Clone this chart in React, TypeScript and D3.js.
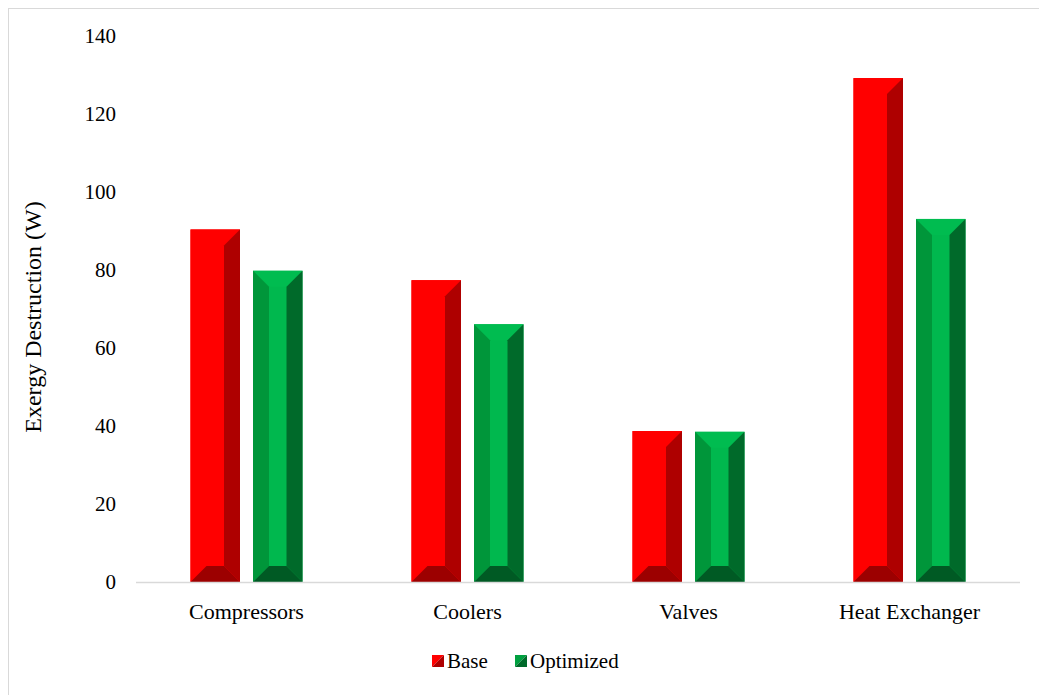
import React from "react";
import * as d3 from "d3";

const categories = ["Compressors", "Coolers", "Valves", "Heat Exchanger"];
const baseValues = [90.4, 77.4, 38.7, 129.2];
const optimizedValues = [79.8, 66.1, 38.5, 93.1];
const yTicks = [0, 20, 40, 60, 80, 100, 120, 140];
const seriesNames = ["Base", "Optimized"];

const W = 1039;
const H = 695;
const plot = { left: 136, right: 1020, top: 36, bottom: 582 };
const font = "'Times New Roman', Times, 'Liberation Serif', Tinos, 'Noto Serif', 'DejaVu Serif', FreeSerif, serif";

const redPal = { main: "#FF0000", top: "#FF0000", left: "#FF0000", right: "#AE0000", bottom: "#9C0000" };
const greenPal = { main: "#00B84E", top: "#00BC50", left: "#00963A", right: "#006A2A", bottom: "#005A24" };

function BevelBar({ x, y, w, h, pal }: any) {
  const b = Math.min(16, w / 3, h / 2);
  const x0 = x, x1 = x + w, y0 = y, y1 = y + h;
  const poly = (pts: number[][]) => pts.map((p) => p.join(",")).join(" ");
  return (
    <g>
      <rect x={x0} y={y0} width={w} height={h} fill={pal.main} />
      <polygon points={poly([[x0, y0], [x1, y0], [x1 - b, y0 + b], [x0 + b, y0 + b]])} fill={pal.top} />
      <polygon points={poly([[x0, y0], [x0 + b, y0 + b], [x0 + b, y1 - b], [x0, y1]])} fill={pal.left} />
      <polygon points={poly([[x1, y0], [x1, y1], [x1 - b, y1 - b], [x1 - b, y0 + b]])} fill={pal.right} />
      <polygon points={poly([[x0, y1], [x1, y1], [x1 - b, y1 - b], [x0 + b, y1 - b]])} fill={pal.bottom} />
    </g>
  );
}

const txt = { fontFamily: font, fill: "#000" };

export default function App() {
  const x = d3.scaleBand<string>().domain(categories).range([plot.left, plot.right]);
  const y = d3.scaleLinear().domain([0, 140]).range([plot.bottom, plot.top]);
  const barW = 49.5;
  const gap = 13;
  const series = [
    { name: seriesNames[0], values: baseValues, pal: redPal },
    { name: seriesNames[1], values: optimizedValues, pal: greenPal },
  ];
  return (
    <svg width={W} height={H} style={{ position: "fixed", left: 0, top: 0, background: "#fff" }}>
      <rect x={8.5} y={8.5} width={1040} height={700} fill="#fff" stroke="#D9D9D9" strokeWidth={1} />
      {yTicks.map((t) => (
        <text key={t} x={116} y={y(t)} textAnchor="end" dominantBaseline="central" style={{ ...txt, fontSize: 21 }}>
          {t}
        </text>
      ))}
      <text
        transform={`translate(33,317) rotate(-90)`}
        textAnchor="middle"
        dominantBaseline="central"
        style={{ ...txt, fontSize: 24 }}
      >
        Exergy Destruction (W)
      </text>
      {categories.map((c, i) => {
        const cx = (x(c) as number) + x.bandwidth() / 2;
        const groupW = barW * 2 + gap;
        return (
          <g key={c}>
            {series.map((s, j) => {
              const bx = cx - groupW / 2 + j * (barW + gap);
              const by = y(s.values[i]);
              return <BevelBar key={s.name} x={bx} y={by} w={barW} h={plot.bottom - by} pal={s.pal} />;
            })}
            <text x={cx} y={611} textAnchor="middle" dominantBaseline="central" style={{ ...txt, fontSize: 22 }}>
              {c}
            </text>
          </g>
        );
      })}
      <line x1={plot.left} x2={plot.right} y1={plot.bottom + 0.5} y2={plot.bottom + 0.5} stroke="#D9D9D9" strokeWidth={1.5} />
      {[
        { name: seriesNames[0], pal: redPal, sx: 432, tx: 447, lc: "#FF0000" },
        { name: seriesNames[1], pal: greenPal, sx: 515, tx: 530, lc: "#00A040" },
      ].map((l) => (
        <g key={l.name}>
          <polygon points={`${l.sx},${655} ${l.sx + 12},${655} ${l.sx},${667}`} fill={l.lc} />
          <polygon points={`${l.sx + 12},${655} ${l.sx + 12},${667} ${l.sx},${667}`} fill={l.pal.right} />
          <text x={l.tx} y={661} dominantBaseline="central" style={{ ...txt, fontSize: 21 }}>
            {l.name}
          </text>
        </g>
      ))}
    </svg>
  );
}
